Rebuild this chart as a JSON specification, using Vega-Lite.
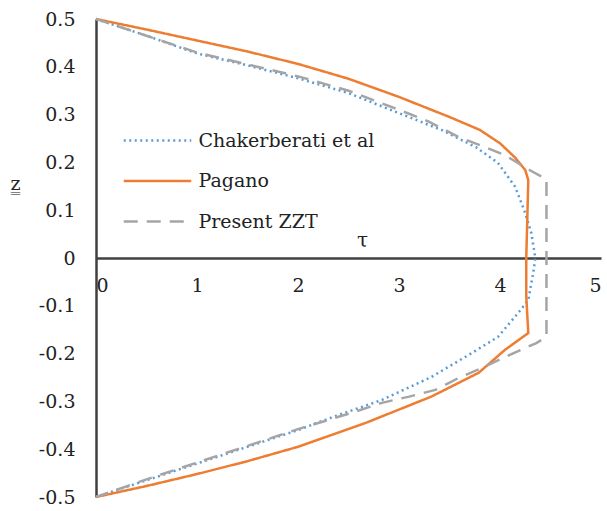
{
  "$schema": "https://vega.github.io/schema/vega-lite/v6.json",
  "width": 505,
  "height": 478,
  "autosize": "none",
  "padding": {"left": 96, "top": 19, "right": 6, "bottom": 14},
  "background": "white",
  "config": {
    "view": {"stroke": null}
  },
  "data": {"values": [
    {"s": "Chakerberati et al", "i": 0, "tau": 0, "z": 0.5},
    {"s": "Chakerberati et al", "i": 1, "tau": 0.5, "z": 0.465},
    {"s": "Chakerberati et al", "i": 2, "tau": 1.0, "z": 0.428},
    {"s": "Chakerberati et al", "i": 3, "tau": 1.5, "z": 0.403},
    {"s": "Chakerberati et al", "i": 4, "tau": 2.0, "z": 0.376},
    {"s": "Chakerberati et al", "i": 5, "tau": 2.5, "z": 0.345},
    {"s": "Chakerberati et al", "i": 6, "tau": 3.0, "z": 0.303},
    {"s": "Chakerberati et al", "i": 7, "tau": 3.42, "z": 0.268},
    {"s": "Chakerberati et al", "i": 8, "tau": 3.76, "z": 0.232},
    {"s": "Chakerberati et al", "i": 9, "tau": 3.98, "z": 0.199},
    {"s": "Chakerberati et al", "i": 10, "tau": 4.15, "z": 0.149},
    {"s": "Chakerberati et al", "i": 11, "tau": 4.25, "z": 0.094},
    {"s": "Chakerberati et al", "i": 12, "tau": 4.31, "z": 0.052},
    {"s": "Chakerberati et al", "i": 13, "tau": 4.35, "z": 0.0},
    {"s": "Chakerberati et al", "i": 14, "tau": 4.33, "z": -0.03},
    {"s": "Chakerberati et al", "i": 15, "tau": 4.28, "z": -0.088},
    {"s": "Chakerberati et al", "i": 16, "tau": 4.18, "z": -0.115},
    {"s": "Chakerberati et al", "i": 17, "tau": 3.98, "z": -0.165},
    {"s": "Chakerberati et al", "i": 18, "tau": 3.72, "z": -0.199},
    {"s": "Chakerberati et al", "i": 19, "tau": 3.32, "z": -0.249},
    {"s": "Chakerberati et al", "i": 20, "tau": 2.83, "z": -0.297},
    {"s": "Chakerberati et al", "i": 21, "tau": 2.34, "z": -0.333},
    {"s": "Chakerberati et al", "i": 22, "tau": 2.0, "z": -0.36},
    {"s": "Chakerberati et al", "i": 23, "tau": 1.5, "z": -0.395},
    {"s": "Chakerberati et al", "i": 24, "tau": 1.0, "z": -0.43},
    {"s": "Chakerberati et al", "i": 25, "tau": 0.5, "z": -0.465},
    {"s": "Chakerberati et al", "i": 26, "tau": 0, "z": -0.5},

    {"s": "Pagano", "i": 0, "tau": 0, "z": 0.5},
    {"s": "Pagano", "i": 1, "tau": 0.5, "z": 0.478},
    {"s": "Pagano", "i": 2, "tau": 1.0, "z": 0.455},
    {"s": "Pagano", "i": 3, "tau": 1.5, "z": 0.432},
    {"s": "Pagano", "i": 4, "tau": 2.0, "z": 0.406},
    {"s": "Pagano", "i": 5, "tau": 2.5, "z": 0.375},
    {"s": "Pagano", "i": 6, "tau": 3.0, "z": 0.337},
    {"s": "Pagano", "i": 7, "tau": 3.5, "z": 0.295},
    {"s": "Pagano", "i": 8, "tau": 3.8, "z": 0.268},
    {"s": "Pagano", "i": 9, "tau": 4.0, "z": 0.24},
    {"s": "Pagano", "i": 10, "tau": 4.15, "z": 0.21},
    {"s": "Pagano", "i": 11, "tau": 4.25, "z": 0.184},
    {"s": "Pagano", "i": 12, "tau": 4.28, "z": 0.163},
    {"s": "Pagano", "i": 13, "tau": 4.27, "z": 0.08},
    {"s": "Pagano", "i": 14, "tau": 4.26, "z": 0.0},
    {"s": "Pagano", "i": 15, "tau": 4.26, "z": -0.08},
    {"s": "Pagano", "i": 16, "tau": 4.28, "z": -0.157},
    {"s": "Pagano", "i": 17, "tau": 4.05, "z": -0.192},
    {"s": "Pagano", "i": 18, "tau": 3.79, "z": -0.24},
    {"s": "Pagano", "i": 19, "tau": 3.32, "z": -0.29},
    {"s": "Pagano", "i": 20, "tau": 2.67, "z": -0.345},
    {"s": "Pagano", "i": 21, "tau": 2.0, "z": -0.395},
    {"s": "Pagano", "i": 22, "tau": 1.5, "z": -0.425},
    {"s": "Pagano", "i": 23, "tau": 1.0, "z": -0.452},
    {"s": "Pagano", "i": 24, "tau": 0.5, "z": -0.477},
    {"s": "Pagano", "i": 25, "tau": 0, "z": -0.5},

    {"s": "Present ZZT", "i": 0, "tau": 0, "z": 0.5},
    {"s": "Present ZZT", "i": 1, "tau": 0.5, "z": 0.465},
    {"s": "Present ZZT", "i": 2, "tau": 1.0, "z": 0.43},
    {"s": "Present ZZT", "i": 3, "tau": 1.5, "z": 0.405},
    {"s": "Present ZZT", "i": 4, "tau": 2.0, "z": 0.38},
    {"s": "Present ZZT", "i": 5, "tau": 2.5, "z": 0.35},
    {"s": "Present ZZT", "i": 6, "tau": 3.0, "z": 0.31},
    {"s": "Present ZZT", "i": 7, "tau": 3.3, "z": 0.285},
    {"s": "Present ZZT", "i": 8, "tau": 3.59, "z": 0.253},
    {"s": "Present ZZT", "i": 9, "tau": 3.85, "z": 0.232},
    {"s": "Present ZZT", "i": 10, "tau": 4.05, "z": 0.215},
    {"s": "Present ZZT", "i": 11, "tau": 4.31, "z": 0.182},
    {"s": "Present ZZT", "i": 12, "tau": 4.46, "z": 0.165},
    {"s": "Present ZZT", "i": 13, "tau": 4.46, "z": 0.0},
    {"s": "Present ZZT", "i": 14, "tau": 4.46, "z": -0.165},
    {"s": "Present ZZT", "i": 15, "tau": 4.36, "z": -0.178},
    {"s": "Present ZZT", "i": 16, "tau": 4.05, "z": -0.207},
    {"s": "Present ZZT", "i": 17, "tau": 3.82, "z": -0.23},
    {"s": "Present ZZT", "i": 18, "tau": 3.59, "z": -0.251},
    {"s": "Present ZZT", "i": 19, "tau": 3.36, "z": -0.276},
    {"s": "Present ZZT", "i": 20, "tau": 3.1, "z": -0.29},
    {"s": "Present ZZT", "i": 21, "tau": 2.83, "z": -0.303},
    {"s": "Present ZZT", "i": 22, "tau": 2.53, "z": -0.324},
    {"s": "Present ZZT", "i": 23, "tau": 2.0, "z": -0.358},
    {"s": "Present ZZT", "i": 24, "tau": 1.5, "z": -0.393},
    {"s": "Present ZZT", "i": 25, "tau": 1.0, "z": -0.428},
    {"s": "Present ZZT", "i": 26, "tau": 0.5, "z": -0.463},
    {"s": "Present ZZT", "i": 27, "tau": 0, "z": -0.5}
  ]},
  "mark": {"type": "line", "strokeWidth": 2.5, "clip": false},
  "encoding": {
    "x": {
      "field": "tau", "type": "quantitative",
      "scale": {"domain": [0, 5], "nice": false, "zero": false},
      "axis": {"values": [0, 1, 2, 3, 4, 5], "offset": -239, "labelPadding": 18, "labelBaseline": "top",
        "grid": false, "ticks": false, "domainColor": "#404040", "domainWidth": 2.5,
        "labelFont": "DejaVu Serif", "labelFontSize": 19, "labelColor": "#222222",
        "title": "τ", "titleFont": "DejaVu Serif", "titleFontWeight": "normal", "titleColor": "#222222",
        "titleX": 266, "titleY": -18, "titleBaseline": "middle", "titleFontSize": 20, "titleAngle": 0}
    },
    "y": {
      "field": "z", "type": "quantitative",
      "scale": {"domain": [-0.5, 0.5], "nice": false, "zero": false},
      "axis": {"values": [-0.5, -0.4, -0.3, -0.2, -0.1, 0, 0.1, 0.2, 0.3, 0.4, 0.5], "labelPadding": 21,
        "grid": false, "ticks": false, "domainColor": "#404040", "domainWidth": 2.5,
        "labelFont": "DejaVu Serif", "labelFontSize": 19, "labelColor": "#222222",
        "labelExpr": "datum.value == 0 ? '0' : replace(format(datum.value, '.1f'), '\u2212', '-')",
        "title": "z̳", "titleFont": "DejaVu Serif", "titleFontWeight": "normal", "titleColor": "#222222",
        "titleAngle": 0, "titleX": -81, "titleY": 164, "titleAlign": "center", "titleBaseline": "middle", "titleFontSize": 19}
    },
    "order": {"field": "i", "type": "quantitative"},
    "color": {
      "field": "s", "type": "nominal",
      "scale": {"domain": ["Chakerberati et al", "Pagano", "Present ZZT"], "range": ["#5B9BD5", "#ED7D31", "#A5A5A5"]},
      "legend": {"title": null, "orient": "none", "legendX": 46.5, "legendY": 106.5, "padding": 0,
        "symbolType": "M-2.5,0H2.5", "symbolSize": 729, "symbolStrokeWidth": 2.5,
        "labelOffset": 26, "labelFont": "DejaVu Serif", "labelFontSize": 19, "labelColor": "#222222",
        "rowPadding": 15.5, "labelLimit": 400}
    },
    "strokeDash": {
      "field": "s", "type": "nominal",
      "scale": {"domain": ["Chakerberati et al", "Pagano", "Present ZZT"], "range": [[2, 3.5], [1, 0], [14, 9]]},
      "legend": {"title": null, "orient": "none", "legendX": 46.5, "legendY": 106.5, "padding": 0,
        "symbolType": "M-2.5,0H2.5", "symbolSize": 729, "symbolStrokeWidth": 2.5,
        "labelOffset": 26, "labelFont": "DejaVu Serif", "labelFontSize": 19, "labelColor": "#222222",
        "rowPadding": 15.5, "labelLimit": 400}
    }
  }
}
